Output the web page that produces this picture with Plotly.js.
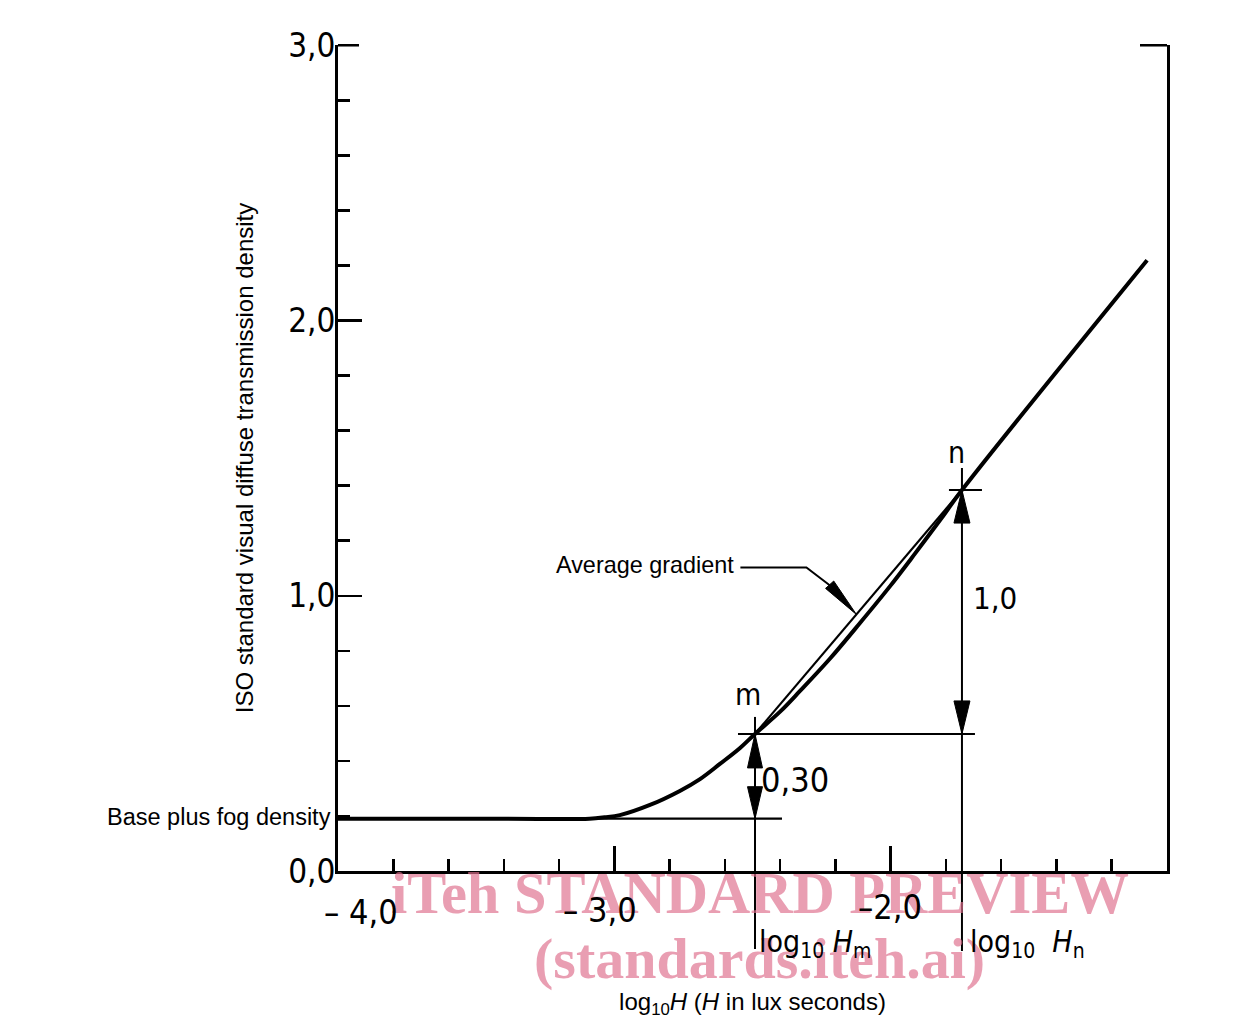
<!DOCTYPE html>
<html><head><meta charset="utf-8">
<script src="https://cdn.plot.ly/plotly-3.0.1.min.js"></script>
<style>html,body{margin:0;padding:0;background:#fff}</style>
</head><body><div id="chart" style="width:1234px;height:1019px"></div>
<script>
// ---- data ----
const curveX = [-4.0, -3.40, -3.09, -3.035, -2.98, -2.871, -2.763, -2.690, -2.618, -2.545, -2.491, -2.400, -2.328, -2.220, -2.111, -2.002, -1.912, -1.821, -1.742, -1.072];
const curveD = [0.19, 0.19, 0.19, 0.195, 0.203, 0.240, 0.291, 0.334, 0.389, 0.447, 0.498, 0.579, 0.654, 0.771, 0.901, 1.035, 1.153, 1.275, 1.384, 2.219];
const baseFog = 0.19;
const pointLabels = ['m', 'n'];
const pointX = [-2.491, -1.742];
const pointD = [0.498, 1.384];
const diffLabels = ['0,30', '1,0'];
const yTickVals = [0, 1, 2, 3];
const yTickText = ['0,0', '1,0', '2,0', '3,0'];
const xTickVals = [-4, -3, -2];
const xTickText = ['\u2013 4,0', '\u2013 3,0', '\u20132,0'];
const xRange = [-4, -1];
const yRange = [0, 3.001];

// ---- geometry helpers (pixel -> data for small offsets) ----
const M = {l: 338, r: 67, t: 45, b: 148};
const PW = 1234 - M.l - M.r, PH = 1019 - M.t - M.b;
const PX = (xRange[1] - xRange[0]) / PW;
const PY = (yRange[1] - yRange[0]) / PH;
const toPaperY = d => (d - yRange[0]) / (yRange[1] - yRange[0]);

const [mX, nX] = pointX;
const [mD, nD] = pointD;

const DIN = 'DejaVu Sans Condensed, Liberation Sans Narrow, Arial Narrow, DejaVu Sans, sans-serif';
const SANS = 'Liberation Sans, Arial, Helvetica, sans-serif';

function head(tx, td, ux, uy, len, wid) {
  const bx = tx - ux * len * PX, bd = td + uy * len * PY;
  const px = -uy, py = ux;
  return {
    x: [tx, bx + px * wid / 2 * PX, bx - px * wid / 2 * PX, tx],
    y: [td, bd - py * wid / 2 * PY, bd + py * wid / 2 * PY, td],
    mode: 'lines', fill: 'toself', fillcolor: '#000',
    line: {color: '#000', width: 1}, hoverinfo: 'skip', showlegend: false
  };
}
function seg(xs, ys, w) {
  return {x: xs, y: ys, mode: 'lines', line: {color: '#000', width: w},
          hoverinfo: 'skip', showlegend: false};
}

const t = 0.49;
const tipX = mX + t * (nX - mX), tipD = mD + t * (nD - mD);
const dirLen = Math.hypot(27, 30);
const ux = 27 / dirLen, uy = 30 / dirLen;
const bendX = tipX - 50 * PX, bendD = tipD + 47 * PY;
const textEndX = bendX - 66 * PX;

const traces = [
  {x: curveX, y: curveD, mode: 'lines', line: {color: '#000', width: 4, shape: 'spline', smoothing: 1},
   hoverinfo: 'skip', showlegend: false},
  seg([xRange[0], mX + 27 * PX], [baseFog, baseFog], 2.2),
  seg([mX, nX], [mD, nD], 2.2),
  seg([mX - 17 * PX, nX + 13 * PX], [mD, mD], 2),
  seg([nX - 13 * PX, nX + 20 * PX], [nD, nD], 2),
  seg([textEndX, bendX, tipX - 38 * ux * PX], [bendD, bendD, tipD + 38 * uy * PY], 2),
  head(tipX, tipD, ux, uy, 40, 11),
  head(mX, mD, 0, -1, 34, 15),
  head(mX, baseFog, 0, 1, 32, 15),
  head(nX, nD, 0, -1, 33, 16),
  head(nX, mD, 0, 1, 33, 16),
  {x: [xRange[0]], y: [0], yaxis: 'y2', mode: 'markers', marker: {opacity: 0}, hoverinfo: 'skip', showlegend: false}
];

const topP = toPaperY(yTickVals[yTickVals.length - 1]);
const shapes = [
  {type: 'line', xref: 'x', yref: 'paper', x0: mX, x1: mX,
   y0: toPaperY(mD) + 17 / PH, y1: -78 / PH, line: {color: '#000', width: 2}},
  {type: 'line', xref: 'x', yref: 'paper', x0: nX, x1: nX,
   y0: toPaperY(nD) + 22 / PH, y1: -80 / PH, line: {color: '#000', width: 2}},
  {type: 'line', xref: 'paper', yref: 'paper', x0: 0, x1: 21 / PW, y0: topP, y1: topP,
   line: {color: '#000', width: 2.5}},
  {type: 'line', xref: 'paper', yref: 'paper', x0: 1 - 27 / PW, x1: 1, y0: topP, y1: topP,
   line: {color: '#000', width: 2.5}}
];

const annotations = [];
annotations.push({x: 0.509, y: -22 / PH, xref: 'paper', yref: 'paper', text: '<b>iTeh STANDARD PREVIEW</b>',
  showarrow: false, xanchor: 'center', yanchor: 'middle',
  font: {family: 'Liberation Serif, Times New Roman, serif', size: 58.5, color: 'rgba(222,112,142,0.68)'}});
annotations.push({x: 0.509, y: -87 / PH, xref: 'paper', yref: 'paper', text: '<b>(standards.iteh.ai)</b>',
  showarrow: false, xanchor: 'center', yanchor: 'middle',
  font: {family: 'Liberation Serif, Times New Roman, serif', size: 58, color: 'rgba(222,112,142,0.68)'}});
xTickVals.forEach((v, i) => {
  annotations.push({x: v, y: 0, xref: 'x', yref: 'paper', text: xTickText[i], showarrow: false,
    xanchor: 'center', yanchor: 'top', xshift: [23, -14, -1][i], yshift: [-19, -17, -14][i],
    font: {family: DIN, size: 34, color: '#000'}});
});
pointLabels.forEach((s, i) => {
  annotations.push({x: pointX[i], y: pointD[i], xref: 'x', yref: 'y', text: s, showarrow: false,
    xanchor: 'center', yanchor: 'middle', xshift: [-7, -5][i], yshift: [39, 38][i],
    font: {family: DIN, size: 30, color: '#000'}});
});
annotations.push({x: mX, y: (mD + baseFog) / 2, xref: 'x', yref: 'y', text: diffLabels[0], showarrow: false,
  xanchor: 'left', yanchor: 'middle', xshift: 4, yshift: -4, font: {family: DIN, size: 34, color: '#000'}});
annotations.push({x: nX, y: (mD + nD) / 2, xref: 'x', yref: 'y', text: diffLabels[1], showarrow: false,
  xanchor: 'left', yanchor: 'middle', xshift: 9, yshift: 14, font: {family: DIN, size: 31, color: '#000'}});
annotations.push({x: xRange[0], y: baseFog, xref: 'x', yref: 'y', text: 'Base plus fog density', showarrow: false,
  xanchor: 'right', yanchor: 'middle', xshift: -5, yshift: 2, font: {family: SANS, size: 23.5, color: '#000'}});
annotations.push({x: textEndX, y: bendD, xref: 'x', yref: 'y', text: 'Average gradient', showarrow: false,
  xanchor: 'right', yanchor: 'middle', xshift: -4, yshift: 2, font: {family: SANS, size: 23.4, color: '#000'}});
annotations.push({x: mX, y: -72 / PH, xref: 'x', yref: 'paper', text: 'log<sub>10</sub> <i>H</i><sub>m</sub>',
  showarrow: false, xanchor: 'left', yanchor: 'middle', xshift: 2, font: {family: DIN, size: 30, color: '#000'}});
annotations.push({x: nX, y: -72 / PH, xref: 'x', yref: 'paper', text: 'log<sub>10</sub>  <i>H</i><sub>n</sub>',
  showarrow: false, xanchor: 'left', yanchor: 'middle', xshift: 6, font: {family: DIN, size: 30, color: '#000'}});

const layout = {
  width: 1234, height: 1019, margin: M, paper_bgcolor: '#fff', plot_bgcolor: '#fff',
  showlegend: false,
  xaxis: {
    range: xRange, showgrid: false, zeroline: false, showline: true, linewidth: 3, linecolor: '#000',
    ticks: 'inside', tickvals: [-3, -2], ticklen: 25, tickwidth: 2.5, tickcolor: '#000',
    showticklabels: false,
    minor: {tick0: -4, dtick: 0.2, ticks: 'inside', ticklen: 12, tickwidth: 2.5, tickcolor: '#000'},
    title: {text: 'log<sub>10</sub><i>H</i> (<i>H</i> in lux seconds)', standoff: 122,
            font: {family: SANS, size: 24, color: '#000'}}
  },
  yaxis: {
    range: yRange, showgrid: false, zeroline: false, showline: true, linewidth: 3, linecolor: '#000',
    ticks: 'inside', tickvals: yTickVals, ticktext: yTickText, ticklen: 24, tickwidth: 2.5, tickcolor: '#000',
    ticklabelstandoff: -7,
    tickfont: {family: DIN, size: 33, color: '#000'},
    minor: {tick0: 0, dtick: 0.2, ticks: 'inside', ticklen: 12, tickwidth: 2.5, tickcolor: '#000'},
    title: {text: 'ISO standard visual diffuse transmission density', standoff: 28,
            font: {family: SANS, size: 24, color: '#000'}}
  },
  yaxis2: {
    range: yRange, overlaying: 'y', side: 'right', anchor: 'x', showgrid: false, zeroline: false,
    showline: true, linewidth: 3, linecolor: '#000', ticks: 'inside', tickvals: [3], ticklen: 27,
    tickwidth: 2.5, tickcolor: '#000', showticklabels: false
  },
  shapes: shapes,
  annotations: annotations
};

Plotly.newPlot('chart', traces, layout, {displayModeBar: false, staticPlot: true});
</script>
</body></html>
